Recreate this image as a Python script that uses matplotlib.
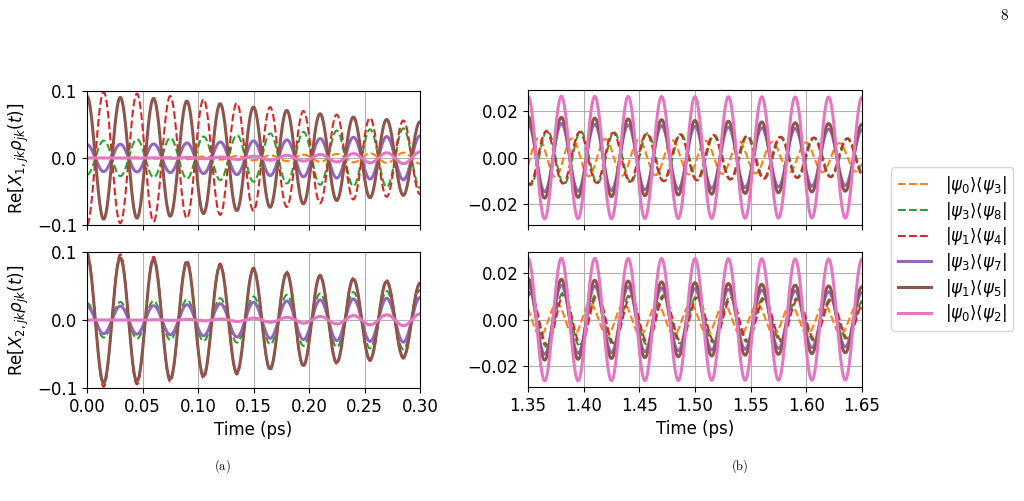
import numpy as np
import matplotlib
matplotlib.use('Agg')
import matplotlib.pyplot as plt

# ---------------- data ----------------
labels = [r'$|\psi_0\rangle\langle\psi_3|$', r'$|\psi_3\rangle\langle\psi_8|$',
          r'$|\psi_1\rangle\langle\psi_4|$', r'$|\psi_3\rangle\langle\psi_7|$',
          r'$|\psi_1\rangle\langle\psi_5|$', r'$|\psi_0\rangle\langle\psi_2|$']
colors = ['tab:orange', 'tab:green', 'tab:red', 'tab:purple', 'tab:brown', 'tab:pink']
styles = ['--', '--', '--', '-', '-', '-']

period_ps = 0.03                       # oscillation period read from peak spacing
t_env_early = [0.0, 0.06, 0.12, 0.18, 0.24, 0.30]
t_env_late = [1.35, 1.50, 1.65]

# envelope amplitudes (rows in legend order) and phases (rad)
amp_x1_early = [
    [0.000, 0.0010, 0.0025, 0.0045, 0.0065, 0.0085],
    [0.025, 0.029, 0.033, 0.038, 0.042, 0.045],
    [0.100, 0.095, 0.085, 0.073, 0.062, 0.054],
    [0.020, 0.021, 0.024, 0.027, 0.031, 0.033],
    [0.092, 0.089, 0.081, 0.071, 0.061, 0.054],
    [0.000, 0.0003, 0.0015, 0.0040, 0.0065, 0.0090],
]
phase_x1_early = [3.1416, 3.1416, 3.1416, 0.0, 0.0, 0.0]

amp_x2_early = [
    [0.000, 0.0003, 0.0013, 0.0035, 0.0060, 0.0082],
    [0.025, 0.028, 0.032, 0.037, 0.041, 0.044],
    [0.100, 0.093, 0.083, 0.071, 0.062, 0.055],
    [0.020, 0.021, 0.024, 0.028, 0.031, 0.033],
    [0.094, 0.089, 0.080, 0.069, 0.060, 0.053],
    [0.000, 0.0003, 0.0015, 0.0040, 0.0065, 0.0090],
]
phase_x2_early = [0.0, 0.0, 0.0, 0.0, 0.0, 0.0]

amp_x1_late = [
    [0.0085, 0.0072, 0.0060],
    [0.0118, 0.0098, 0.0080],
    [0.0115, 0.0097, 0.0080],
    [0.0148, 0.0133, 0.0118],
    [0.0175, 0.0158, 0.0142],
    [0.0262, 0.0260, 0.0258],
]
phase_x1_late = [-2.0, 2.64, 2.84, 0.0, 0.0, 0.0]

amp_x2_late = [
    [0.0070, 0.0066, 0.0062],
    [0.0118, 0.0100, 0.0085],
    [0.0110, 0.0095, 0.0080],
    [0.0150, 0.0132, 0.0115],
    [0.0175, 0.0157, 0.0140],
    [0.0262, 0.0260, 0.0258],
]
phase_x2_late = [0.85, -0.3, -0.5, 0.0, 0.0, 0.0]

early_xticks = [0.00, 0.05, 0.10, 0.15, 0.20, 0.25, 0.30]
late_xticks = [1.35, 1.40, 1.45, 1.50, 1.55, 1.60, 1.65]

# ---------------- figure ----------------
W, H = 1024, 501
fig = plt.figure(figsize=(W / 100, H / 100), dpi=100)


def box(l, t, r, b):
    return [l / W, 1 - b / H, (r - l) / W, (b - t) / H]


ax_tl = fig.add_axes(box(87, 91, 420, 225))
ax_bl = fig.add_axes(box(87, 252, 420, 388))
ax_tr = fig.add_axes(box(528, 90, 862, 225))
ax_br = fig.add_axes(box(528, 252, 862, 387))

omega = 2 * np.pi / period_ps


def draw(ax, t_env, amps, phases, tlim):
    t = np.linspace(tlim[0], tlim[1], 3000)
    lines = []
    for k in range(6):
        env = np.interp(t, t_env, amps[k])
        y = env * np.cos(omega * t + phases[k])
        lw = 1.5 if styles[k] == '--' else 2.2
        ln, = ax.plot(t, y, styles[k], color=colors[k], lw=lw, label=labels[k])
        lines.append(ln)
    ax.set_xlim(*tlim)
    ax.grid(True)
    ax.tick_params(labelsize=12)
    return lines


handles = draw(ax_tl, t_env_early, amp_x1_early, phase_x1_early, (0.0, 0.30))
draw(ax_bl, t_env_early, amp_x2_early, phase_x2_early, (0.0, 0.30))
draw(ax_tr, t_env_late, amp_x1_late, phase_x1_late, (1.35, 1.65))
draw(ax_br, t_env_late, amp_x2_late, phase_x2_late, (1.35, 1.65))

for ax in (ax_tl, ax_bl):
    ax.set_ylim(-0.1, 0.1)
    ax.set_yticks([-0.1, 0.0, 0.1])
    ax.set_xticks(early_xticks)
for ax in (ax_tr, ax_br):
    ax.set_yticks([-0.02, 0.0, 0.02])
    ax.set_xticks(late_xticks)
for ax in (ax_tl, ax_tr):
    ax.set_xticklabels([])

ax_tl.set_ylabel(r'Re[$X_{1,jk}\rho_{jk}(t)$]', fontsize=12)
ax_bl.set_ylabel(r'Re[$X_{2,jk}\rho_{jk}(t)$]', fontsize=12)
ax_bl.set_xlabel('Time (ps)', fontsize=12)
ax_br.set_xlabel('Time (ps)', fontsize=12)

fig.legend(handles=handles, loc='upper left', bbox_to_anchor=(883 / W, 1 - 159 / H),
           fontsize=12, labelspacing=0.22)

fig.text(222 / W, 1 - 466 / H, r'$\mathrm{(a)}$', math_fontfamily='cm',
         ha='center', va='center', fontsize=9)
fig.text(740 / W, 1 - 466 / H, r'$\mathrm{(b)}$', math_fontfamily='cm',
         ha='center', va='center', fontsize=9)
fig.text(1004 / W, 1 - 15 / H, r'$\mathrm{8}$', math_fontfamily='cm',
         ha='center', va='center', fontsize=11)

fig.savefig('out.png', dpi=100)
